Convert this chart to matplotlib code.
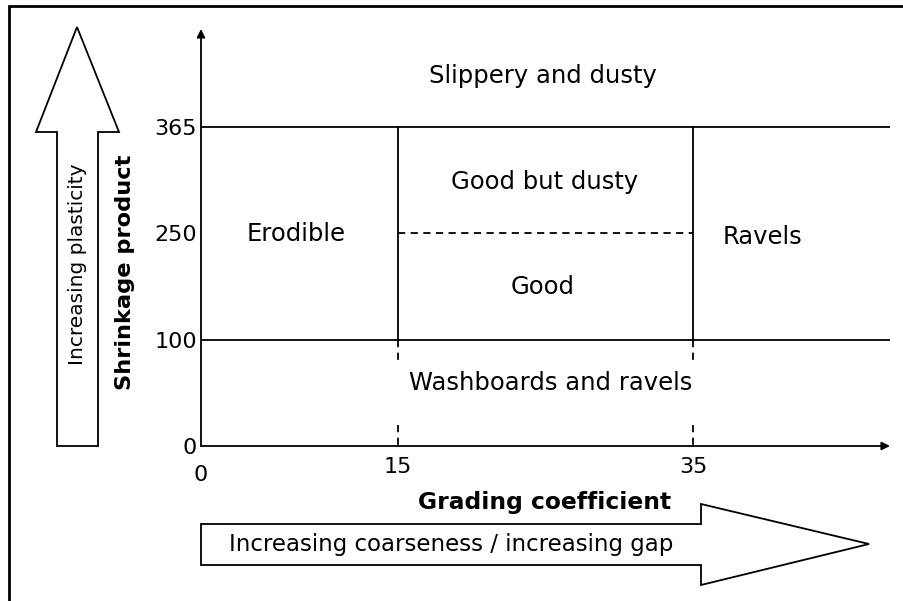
from matplotlib import pyplot as plt
from matplotlib.patches import Polygon

#####

# grading coefficient boundaries (x) and shrinkage product boundaries (y)
grading_ticks = [0, 15, 35]
grading_pos = [0, 2, 5]          # schematic spacing used in the diagram
shrink_ticks = [0, 100, 250, 365]
shrink_pos = [0, 1, 2, 3]

xmax = 7.0
ymax = 3.92

region_labels = ['Slippery and dusty', 'Erodible', 'Good but dusty', 'Good',
                 'Ravels', 'Washboards and ravels']
region_x = [3.47, 0.97, 3.49, 3.47, 5.70, 3.55]
region_y = [3.48, 1.99, 2.48, 1.49, 1.96, 0.59]

#####

W, H = 904, 601
fig = plt.figure(figsize=(W/100., H/100.), dpi=100)
plt.rcParams['font.family'] = 'DejaVu Sans'
fs = 16
fs_reg = 17.5
lw = 1.3

# overlay in pixel units for the frame and the block arrows
fr = fig.add_axes([0, 0, 1, 1])
fr.set_xlim(0, W)
fr.set_ylim(H, 0)
fr.axis('off')

fr.plot([9, 9, W], [H, 6, 6], color='black', linewidth=2.0, solid_joinstyle='miter')

up = Polygon([(57, 446), (98, 446), (98, 132), (119, 132), (77, 27),
              (36, 132), (57, 132)], closed=True, facecolor='white',
             edgecolor='black', linewidth=lw)
fr.add_patch(up)
right = Polygon([(201, 524), (701, 524), (701, 504), (869, 544), (701, 585),
                 (701, 565), (201, 565)], closed=True, facecolor='white',
                edgecolor='black', linewidth=lw)
fr.add_patch(right)

fr.text(78, 264, 'Increasing plasticity', rotation=90, ha='center', va='center', fontsize=14.5)
fr.text(451, 545, 'Increasing coarseness / increasing gap', ha='center', va='center', fontsize=16.5)
fr.text(125, 272, 'Shrinkage product', rotation=90, ha='center', va='center',
        fontsize=16.2, fontweight='bold')
fr.text(545, 502, 'Grading coefficient', ha='center', va='center',
        fontsize=16.8, fontweight='bold')

#####

x0, x1 = 201, 890
y0, y1 = 446, 29
ax = fig.add_axes([x0/W, (H-y0)/H, (x1-x0)/W, (y0-y1)/H])
ax.set_facecolor('none')
ax.set_xlim(0, xmax)
ax.set_ylim(0, ymax)
for s in ax.spines.values():
    s.set_visible(False)

# axes with arrow heads
ax.annotate('', xy=(xmax, 0), xytext=(0, 0),
            arrowprops=dict(arrowstyle='-|>', lw=lw, color='black', mutation_scale=12, shrinkA=0, shrinkB=0))
ax.annotate('', xy=(0, ymax), xytext=(0, 0),
            arrowprops=dict(arrowstyle='-|>', lw=lw, color='black', mutation_scale=12, shrinkA=0, shrinkB=0))

# region boundaries
ax.plot([0, xmax], [shrink_pos[3], shrink_pos[3]], color='black', linewidth=lw)
ax.plot([0, xmax], [shrink_pos[1], shrink_pos[1]], color='black', linewidth=lw)
for xp in grading_pos[1:]:
    ax.plot([xp, xp], [shrink_pos[1], shrink_pos[3]], color='black', linewidth=lw)
    ax.plot([xp, xp], [shrink_pos[1], 0.79], color='black', linewidth=lw, linestyle=(0, (4, 3)))
    ax.plot([xp, xp], [0.20, 0], color='black', linewidth=lw, linestyle=(0, (4, 3)))
ax.plot([grading_pos[1], grading_pos[2]], [shrink_pos[2], shrink_pos[2]],
        color='black', linewidth=lw, linestyle=(0, (4, 3)))

for lab, xx, yy in zip(region_labels, region_x, region_y):
    ax.text(xx, yy, lab, ha='center', va='center', fontsize=fs_reg)

ax.set_yticks(shrink_pos, [str(v) for v in shrink_ticks], fontsize=fs)
ax.set_xticks(grading_pos[1:], [str(v) for v in grading_ticks[1:]], fontsize=fs)
ax.tick_params(length=0)
ax.tick_params(axis='y', pad=3)
ax.tick_params(axis='x', pad=8)
ax.text(grading_pos[0], -0.27, str(grading_ticks[0]), ha='center', va='center', fontsize=fs)

fig.savefig('out.png', dpi=100)
